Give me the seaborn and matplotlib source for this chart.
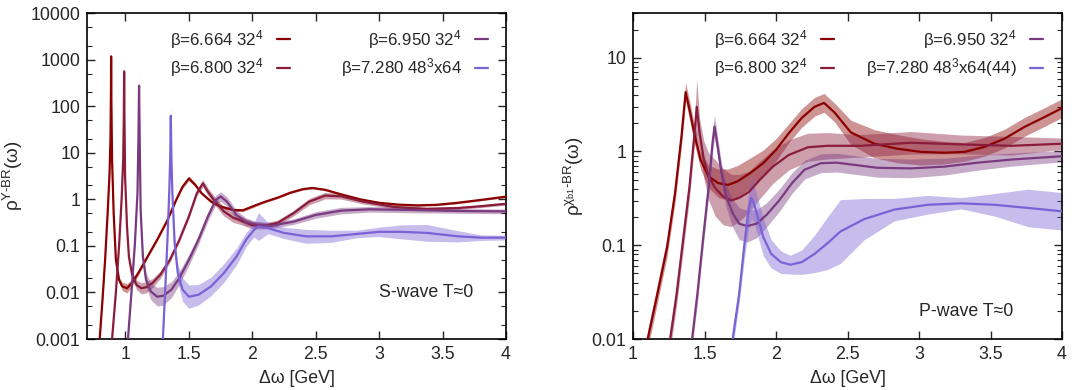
import numpy as np
import matplotlib
matplotlib.use("Agg")
import matplotlib.pyplot as plt
import seaborn as sns
from matplotlib.ticker import FixedLocator, NullFormatter

# ---------------- data ----------------
series_labels_s = [r"β=6.664 32$^{4}$", r"β=6.800 32$^{4}$", r"β=6.950 32$^{4}$", r"β=7.280 48$^{3}$x64"]
series_labels_p = [r"β=6.664 32$^{4}$", r"β=6.800 32$^{4}$", r"β=6.950 32$^{4}$", r"β=7.280 48$^{3}$x64(44)"]

# S-wave: omega [GeV], rho value, log10 half-width of error band
s_w_6664 = [0.790, 0.800, 0.8225, 0.8425, 0.8625, 0.8775, 0.885, 0.889, 0.890, 0.891, 0.895, 0.8975, 0.910, 0.9275,
            0.9525, 0.9775, 1.015, 1.0525, 1.1025, 1.1775, 1.2525, 1.3275, 1.4025, 1.4525, 1.5025, 1.5525, 1.6025,
            1.6775, 1.7525, 1.8525, 1.9275, 2.025, 2.10, 2.20, 2.30, 2.40, 2.475, 2.575, 2.70, 2.85, 3.00, 3.15,
            3.30, 3.45, 3.60, 3.75, 3.90, 4.00]
s_v_6664 = [0.00055, 0.001, 0.0072, 0.05, 0.5, 3.6, 20, 250, 1170, 250, 25, 7, 0.5, 0.05,
            0.0186, 0.0135, 0.0123, 0.0158, 0.0257, 0.059, 0.135, 0.33, 0.97, 1.86, 2.8, 2.04, 1.35,
            0.89, 0.70, 0.59, 0.58, 0.74, 0.88, 1.08, 1.38, 1.65, 1.75, 1.6, 1.28, 1.0, 0.84, 0.77,
            0.74, 0.76, 0.83, 0.93, 1.05, 1.14]
s_e_6664 = [0.03, 0.03, 0.03, 0.03, 0.03, 0.03, 0.03, 0.05, 0.29, 0.05, 0.03, 0.03, 0.03, 0.04,
            0.06, 0.09, 0.1, 0.08, 0.05, 0.03, 0.03, 0.03, 0.03, 0.04, 0.05, 0.04, 0.03,
            0.03, 0.03, 0.03, 0.03, 0.03, 0.02, 0.02, 0.02, 0.02, 0.02, 0.02, 0.02, 0.02, 0.02, 0.02,
            0.02, 0.02, 0.02, 0.02, 0.02, 0.02]

s_w_6800 = [0.885, 0.8975, 0.9275, 0.9525, 0.9725, 0.985, 0.990, 0.9925, 0.995, 1.000, 1.015, 1.030, 1.055,
            1.090, 1.1275, 1.165, 1.215, 1.2775, 1.3525, 1.4275, 1.5025, 1.565, 1.6125, 1.6525, 1.7025, 1.7775,
            1.8525, 1.90, 2.00, 2.10, 2.20, 2.325, 2.45, 2.575, 2.70, 2.875, 3.125, 3.375, 3.625, 3.80, 4.00]
s_v_6800 = [0.0005, 0.001, 0.01, 0.1, 1.0, 7, 60, 557, 60, 3.1, 0.26, 0.059, 0.024,
            0.0145, 0.0123, 0.0129, 0.0158, 0.024, 0.05, 0.135, 0.43, 1.35, 2.2, 1.45, 0.95, 0.55,
            0.40, 0.36, 0.28, 0.27, 0.31, 0.50, 0.89, 1.2, 1.16, 0.89, 0.68, 0.62, 0.65, 0.71, 0.80]
s_e_6800 = [0.05, 0.05, 0.05, 0.05, 0.05, 0.05, 0.08, 0.26, 0.08, 0.05, 0.05, 0.06, 0.08,
            0.1, 0.12, 0.12, 0.1, 0.08, 0.06, 0.05, 0.05, 0.06, 0.08, 0.08, 0.09, 0.1,
            0.1, 0.09, 0.08, 0.07, 0.06, 0.06, 0.07, 0.07, 0.06, 0.05, 0.04, 0.04, 0.03, 0.03, 0.03]

s_w_6950 = [1.010, 1.0225, 1.050, 1.0775, 1.0975, 1.105, 1.110, 1.115, 1.1225, 1.140, 1.165, 1.2025, 1.2525,
            1.3025, 1.365, 1.4275, 1.5025, 1.5775, 1.6525, 1.715, 1.7525, 1.8025, 1.8775, 1.9525, 2.025, 2.15,
            2.325, 2.50, 2.70, 2.925, 3.25, 3.625, 4.00]
s_v_6950 = [0.0005, 0.001, 0.01, 0.115, 1.35, 20, 275, 20, 0.59, 0.059, 0.0186, 0.0105, 0.0081,
            0.0085, 0.0115, 0.0204, 0.05, 0.135, 0.43, 0.97, 1.15, 0.89, 0.46, 0.33, 0.29, 0.27,
            0.33, 0.46, 0.57, 0.61, 0.59, 0.56, 0.55]
s_e_6950 = [0.08, 0.08, 0.08, 0.08, 0.08, 0.1, 0.26, 0.1, 0.1, 0.12, 0.15, 0.18, 0.2,
            0.2, 0.17, 0.14, 0.12, 0.1, 0.1, 0.1, 0.1, 0.1, 0.1, 0.08, 0.07, 0.06,
            0.06, 0.07, 0.07, 0.06, 0.06, 0.05, 0.05]

s_w_7280 = [1.285, 1.2975, 1.315, 1.3325, 1.3475, 1.355, 1.360, 1.365, 1.3725, 1.390, 1.415, 1.4525, 1.5025,
            1.5775, 1.6775, 1.7775, 1.8775, 1.9525, 2.015, 2.05, 2.125, 2.25, 2.425, 2.625, 2.825, 3.00,
            3.175, 3.375, 3.625, 3.80, 4.00]
s_v_7280 = [0.0005, 0.001, 0.01, 0.115, 1.35, 7, 62, 7, 1.35, 0.115, 0.026, 0.0115, 0.0081,
            0.0089, 0.0135, 0.026, 0.059, 0.135, 0.22, 0.26, 0.24, 0.19, 0.16, 0.16, 0.18, 0.20,
            0.20, 0.19, 0.16, 0.15, 0.15]
s_e_7280 = [0.1, 0.1, 0.1, 0.1, 0.1, 0.1, 0.26, 0.1, 0.1, 0.15, 0.2, 0.25, 0.25,
            0.22, 0.2, 0.2, 0.18, 0.15, 0.15, 0.3, 0.12, 0.12, 0.15, 0.13, 0.08, 0.1,
            0.15, 0.18, 0.12, 0.06, 0.05]

# P-wave
p_w_6664 = [1.08, 1.103, 1.17, 1.238, 1.294, 1.339, 1.368, 1.395, 1.428, 1.473, 1.529, 1.596, 1.664, 1.731,
            1.82, 1.91, 2.00, 2.09, 2.18, 2.27, 2.336, 2.41, 2.523, 2.687, 2.85, 3.014, 3.178, 3.318, 3.458,
            3.598, 3.738, 3.878, 4.00]
p_v_6664 = [0.006, 0.01, 0.03, 0.095, 0.36, 1.45, 4.3, 2.8, 1.57, 0.81, 0.54, 0.46, 0.44, 0.48,
            0.59, 0.75, 1.04, 1.57, 2.28, 3.0, 3.3, 2.6, 1.6, 1.21, 1.07, 0.99, 0.97, 0.99, 1.12,
            1.37, 1.83, 2.33, 2.9]
p_e_6664 = [0.1, 0.1, 0.1, 0.1, 0.1, 0.1, 0.1, 0.1, 0.1, 0.1, 0.12, 0.15, 0.17, 0.17,
            0.16, 0.14, 0.12, 0.1, 0.1, 0.1, 0.1, 0.1, 0.13, 0.15, 0.15, 0.14, 0.12, 0.1, 0.1,
            0.1, 0.1, 0.1, 0.1]

p_w_6800 = [1.24, 1.26, 1.305, 1.35, 1.395, 1.428, 1.446, 1.466, 1.496, 1.529, 1.574, 1.63, 1.686, 1.742,
            1.81, 1.888, 1.978, 2.09, 2.224, 2.36, 2.593, 2.944, 3.294, 3.645, 4.00]
p_v_6800 = [0.006, 0.01, 0.03, 0.113, 0.42, 1.45, 3.0, 1.57, 0.81, 0.54, 0.41, 0.33, 0.30, 0.32,
            0.37, 0.50, 0.69, 0.92, 1.11, 1.15, 1.15, 1.24, 1.19, 1.15, 1.21]
p_e_6800 = [0.12, 0.12, 0.12, 0.12, 0.12, 0.12, 0.3, 0.15, 0.2, 0.25, 0.3, 0.3, 0.28, 0.25,
            0.22, 0.2, 0.18, 0.16, 0.15, 0.14, 0.12, 0.12, 0.1, 0.1, 0.06]

p_w_6950 = [1.39, 1.413, 1.45, 1.489, 1.529, 1.556, 1.57, 1.592, 1.619, 1.652, 1.697, 1.742, 1.798, 1.865,
            1.933, 2.022, 2.112, 2.20, 2.314, 2.426, 2.71, 2.944, 3.178, 3.411, 3.645, 4.00]
p_v_6950 = [0.006, 0.01, 0.03, 0.113, 0.42, 1.23, 1.85, 1.13, 0.59, 0.33, 0.22, 0.17, 0.16, 0.17,
            0.21, 0.30, 0.46, 0.64, 0.75, 0.76, 0.67, 0.66, 0.69, 0.76, 0.82, 0.89]
p_e_6950 = [0.1, 0.1, 0.1, 0.1, 0.1, 0.1, 0.12, 0.1, 0.1, 0.12, 0.15, 0.17, 0.17, 0.15,
            0.13, 0.12, 0.11, 0.1, 0.1, 0.1, 0.1, 0.1, 0.09, 0.08, 0.07, 0.06]

p_w_7280 = [1.68, 1.697, 1.742, 1.78, 1.809, 1.827, 1.845, 1.865, 1.91, 1.966, 2.034, 2.10, 2.18, 2.27,
            2.36, 2.45, 2.617, 2.827, 3.06, 3.294, 3.528, 3.762, 4.00]
p_v_7280 = [0.006, 0.01, 0.03, 0.105, 0.24, 0.32, 0.28, 0.22, 0.123, 0.081, 0.066, 0.062, 0.066, 0.081,
            0.105, 0.14, 0.19, 0.24, 0.27, 0.28, 0.27, 0.25, 0.23]
p_e_7280 = [0.1, 0.1, 0.1, 0.15, 0.2, 0.22, 0.2, 0.2, 0.2, 0.15, 0.12, 0.1, 0.13, 0.2,
            0.28, 0.34, 0.22, 0.12, 0.1, 0.06, 0.12, 0.2, 0.2]

s_yticks = [0.001, 0.01, 0.1, 1, 10, 100, 1000, 10000]
s_yticklabels = ["0.001", "0.01", "0.1", "1", "10", "100", "1000", "10000"]
p_yticks = [0.01, 0.1, 1, 10]
p_yticklabels = ["0.01", "0.1", "1", "10"]
xticks = [1, 1.5, 2, 2.5, 3, 3.5, 4]
xticklabels = ["1", "1.5", "2", "2.5", "3", "3.5", "4"]

colors = ["#8b0000", "#8a1c3c", "#7a3a80", "#7a62d6"]

# ---------------- style ----------------
sns.set_theme(style="ticks")
plt.rcParams["font.family"] = ["Liberation Sans", "DejaVu Sans"]
plt.rcParams["mathtext.fontset"] = "custom"
plt.rcParams["mathtext.rm"] = "Liberation Sans"
plt.rcParams["mathtext.it"] = "Liberation Sans:italic"
plt.rcParams["mathtext.bf"] = "Liberation Sans:bold"
plt.rcParams["axes.unicode_minus"] = False

FS = 12.8
LFS = 12.2

fig = plt.figure(figsize=(10.9, 3.9), dpi=100)
axL = fig.add_axes([87 / 1090, 1 - 339 / 390, 419 / 1090, 326 / 390])
axR = fig.add_axes([633 / 1090, 1 - 339 / 390, 429 / 1090, 326 / 390])

S = [(s_w_6664, s_v_6664, s_e_6664), (s_w_6800, s_v_6800, s_e_6800),
     (s_w_6950, s_v_6950, s_e_6950), (s_w_7280, s_v_7280, s_e_7280)]
P = [(p_w_6664, p_v_6664, p_e_6664), (p_w_6800, p_v_6800, p_e_6800),
     (p_w_6950, p_v_6950, p_e_6950), (p_w_7280, p_v_7280, p_e_7280)]


def draw(ax, data, labels):
    ax.set_yscale("log")
    for (w, v, e), c in zip(data, colors):
        w = np.asarray(w); v = np.asarray(v); e = np.asarray(e)
        ax.fill_between(w, v / 10 ** e, v * 10 ** e, color=c, alpha=0.42, lw=0, zorder=1)
    for (w, v, e), c, lab in zip(data, colors, labels):
        sns.lineplot(x=w, y=v, ax=ax, color=c, lw=1.6, label=lab, estimator=None, sort=False, zorder=3)


draw(axL, S, series_labels_s)
draw(axR, P, series_labels_p)

for ax in (axL, axR):
    ax.tick_params(axis="both", which="both", direction="in", top=True, right=True, labelsize=FS, pad=5)
    ax.tick_params(which="major", length=6, width=1)
    ax.tick_params(which="minor", length=3.5, width=0.8)
    ax.xaxis.set_major_locator(FixedLocator(xticks))
    ax.set_xticklabels(xticklabels)
    for sp in ax.spines.values():
        sp.set_linewidth(1.2)
        sp.set_color("black")
    ax.set_xlabel("Δω [GeV]", fontsize=FS, labelpad=5)

axL.set_xlim(0.7, 4)
axL.set_ylim(0.001, 10000)
axL.yaxis.set_major_locator(FixedLocator(s_yticks))
axL.set_yticklabels(s_yticklabels)
axL.yaxis.set_minor_locator(matplotlib.ticker.LogLocator(base=10, subs=(2, 5), numticks=20))
axL.yaxis.set_minor_formatter(NullFormatter())
axL.set_ylabel(r"ρ$^{\mathrm{Υ\text{-}BR}}$(ω)", fontsize=13.5, labelpad=4)

axR.set_xlim(1, 4)
axR.set_ylim(0.01, 30)
axR.yaxis.set_major_locator(FixedLocator(p_yticks))
axR.set_yticklabels(p_yticklabels)
axR.yaxis.set_minor_locator(matplotlib.ticker.LogLocator(base=10, subs=(2, 3, 4, 5, 6, 7, 8, 9), numticks=20))
axR.yaxis.set_minor_formatter(NullFormatter())
axR.set_ylabel(r"ρ$^{\mathrm{χ_{b1}\text{-}BR}}$(ω)", fontsize=13.5, labelpad=4)

legkw = dict(ncol=2, markerfirst=False, frameon=False, fontsize=LFS, handlelength=0.75,
             handletextpad=0.8, labelspacing=0.35, borderaxespad=0, borderpad=0, loc="upper right")
axL.legend(bbox_to_anchor=(0.957, 0.955), columnspacing=3.0, **legkw)
axR.legend(bbox_to_anchor=(0.955, 0.955), columnspacing=1.9, **legkw)

axL.text(3.0, 0.01, "S-wave T≈0", fontsize=FS, va="center", ha="left")
axR.text(3.0, 0.0195, "P-wave T≈0", fontsize=FS, va="center", ha="left")

fig.savefig("out.png", dpi=100)
